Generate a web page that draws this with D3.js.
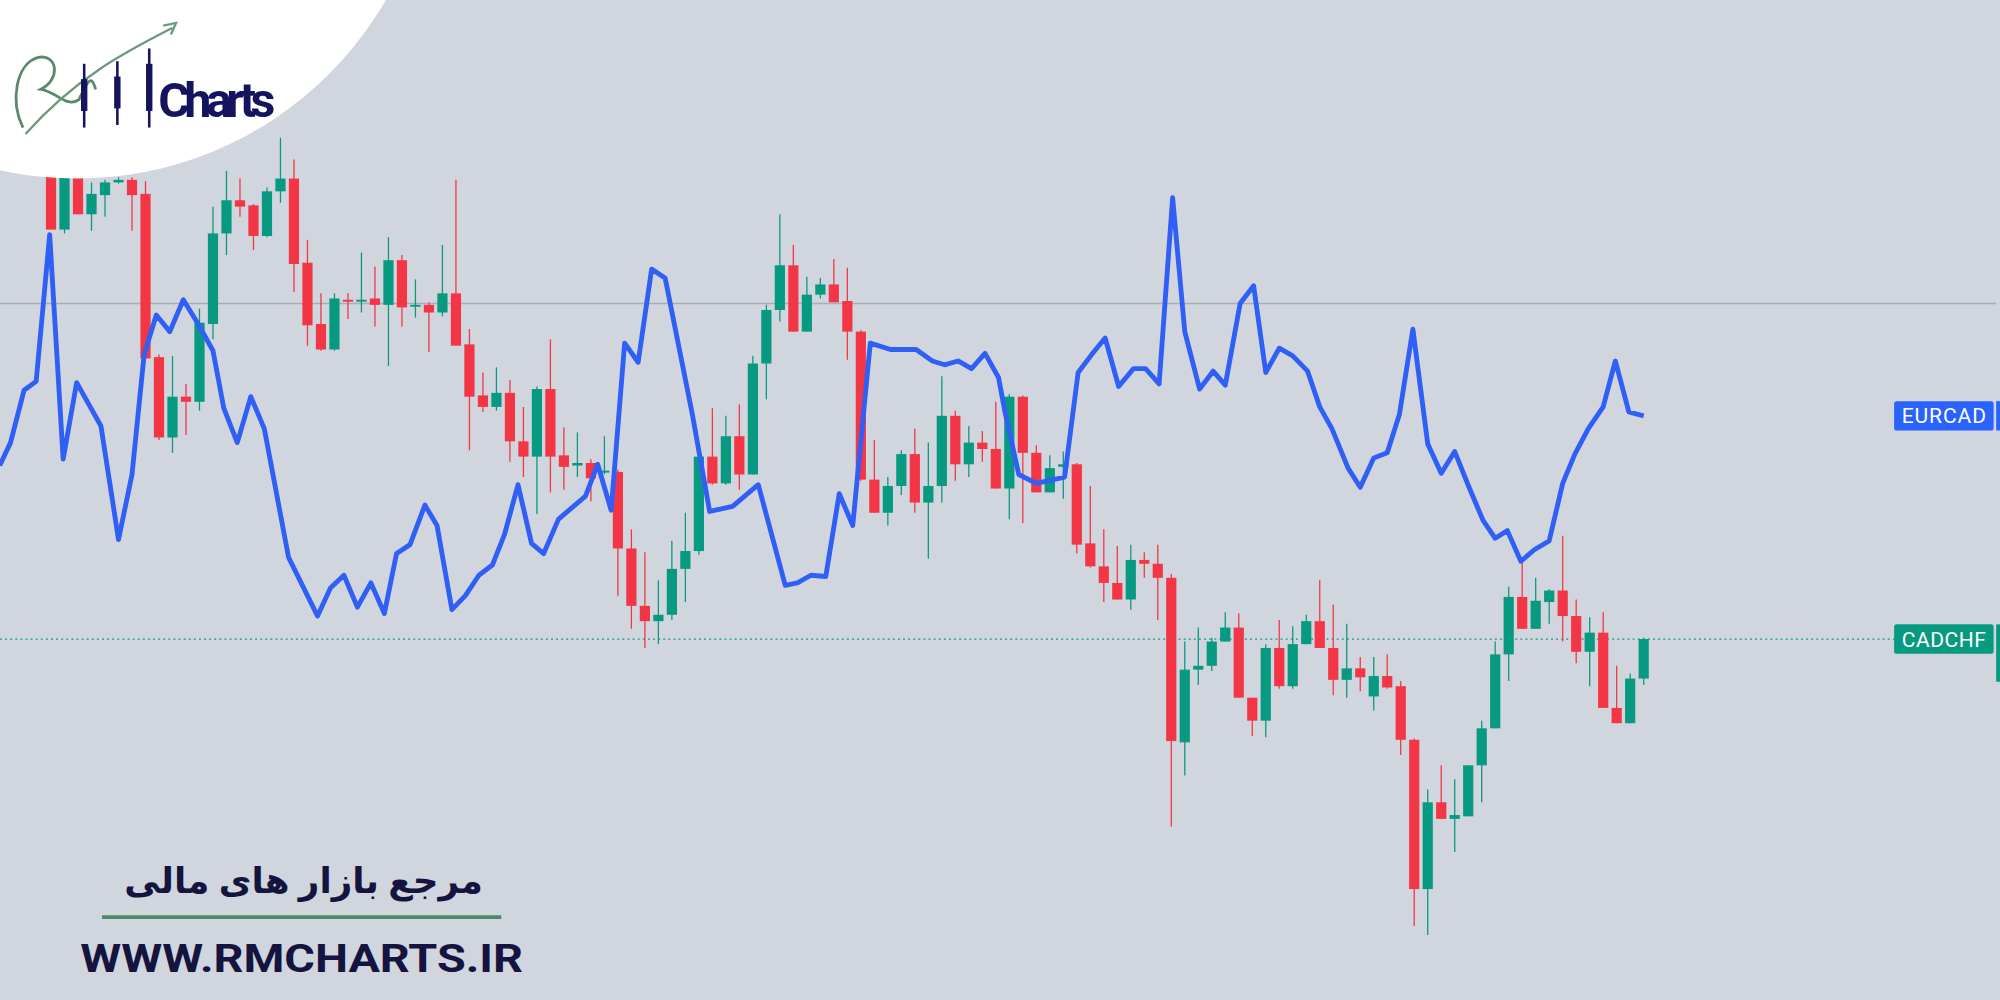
<!DOCTYPE html>
<html><head><meta charset="utf-8">
<script src="https://cdn.jsdelivr.net/npm/d3@7"></script>
<style>html,body{margin:0;padding:0;background:#d1d4dc;overflow:hidden}</style>
</head><body>
<svg id="c" width="2000" height="1000" viewBox="0 0 1568 784"></svg>
<script>
// CADCHF candles (index 0..118)
const cadOpen=[0.6870,0.6820,0.6864,0.6832,0.6847,0.6857,0.6859,0.6848,0.6720,0.6657,0.6689,0.6685,0.6746,0.6817,0.6843,0.6839,0.6815,0.6850,0.6860,0.6794,0.6746,0.6726,0.6765,0.6764,0.6766,0.6761,0.6796,0.6760,0.6761,0.6755,0.6770,0.6730,0.6690,0.6681,0.6692,0.6654,0.6642,0.6695,0.6643,0.6635,0.6637,0.6630,0.6630,0.6570,0.6525,0.6513,0.6518,0.6554,0.6568,0.6642,0.6621,0.6658,0.6628,0.6715,0.6757,0.6792,0.6740,0.6769,0.6777,0.6764,0.6740,0.6624,0.6598,0.6619,0.6644,0.6606,0.6619,0.6674,0.6636,0.6653,0.6648,0.6617,0.6689,0.6645,0.6614,0.6634,0.6636,0.6574,0.6556,0.6543,0.6530,0.6561,0.6558,0.6547,0.6418,0.6475,0.6478,0.6497,0.6508,0.6453,0.6435,0.6492,0.6462,0.6495,0.6513,0.6492,0.6467,0.6476,0.6454,0.6470,0.6462,0.6420,0.6303,0.6371,0.6358,0.6360,0.6400,0.6429,0.6487,0.6532,0.6507,0.6528,0.6537,0.6517,0.6489,0.6504,0.6445,0.6433,0.6468];
const cadClose=[0.6820,0.6865,0.6832,0.6848,0.6857,0.6859,0.6847,0.6719,0.6657,0.6689,0.6685,0.6747,0.6817,0.6843,0.6838,0.6815,0.6850,0.6860,0.6793,0.6745,0.6726,0.6766,0.6764,0.6765,0.6761,0.6796,0.6759,0.6761,0.6755,0.6770,0.6729,0.6689,0.6681,0.6692,0.6654,0.6642,0.6695,0.6642,0.6634,0.6637,0.6625,0.6631,0.6570,0.6525,0.6513,0.6518,0.6554,0.6568,0.6642,0.6621,0.6658,0.6628,0.6715,0.6757,0.6792,0.6740,0.6769,0.6777,0.6763,0.6740,0.6624,0.6598,0.6619,0.6644,0.6606,0.6619,0.6674,0.6636,0.6653,0.6648,0.6617,0.6689,0.6645,0.6614,0.6633,0.6636,0.6573,0.6556,0.6543,0.6530,0.6561,0.6558,0.6547,0.6419,0.6475,0.6478,0.6497,0.6508,0.6453,0.6435,0.6492,0.6462,0.6495,0.6513,0.6492,0.6467,0.6476,0.6469,0.6470,0.6461,0.6420,0.6303,0.6371,0.6358,0.6361,0.6400,0.6429,0.6487,0.6532,0.6507,0.6529,0.6537,0.6517,0.6489,0.6504,0.6445,0.6433,0.6468,0.6499];
const cadHigh=[0.6875,0.6867,0.6866,0.6857,0.6859,0.6861,0.6861,0.6858,0.6722,0.6721,0.6699,0.6758,0.6838,0.6866,0.6860,0.6840,0.6853,0.6892,0.6875,0.6812,0.6770,0.6770,0.6770,0.6802,0.6791,0.6814,0.6800,0.6781,0.6763,0.6808,0.6859,0.6742,0.6708,0.6712,0.6702,0.6681,0.6697,0.6734,0.6665,0.6661,0.6640,0.6658,0.6632,0.6585,0.6567,0.6545,0.6576,0.6598,0.6652,0.6680,0.6674,0.6683,0.6721,0.6761,0.6832,0.6808,0.6783,0.6782,0.6797,0.6790,0.6741,0.6655,0.6626,0.6647,0.6664,0.6653,0.6705,0.6678,0.6666,0.6662,0.6685,0.6691,0.6690,0.6651,0.6643,0.6646,0.6637,0.6619,0.6585,0.6572,0.6573,0.6567,0.6573,0.6550,0.6497,0.6508,0.6500,0.6520,0.6519,0.6453,0.6495,0.6514,0.6509,0.6518,0.6545,0.6526,0.6511,0.6485,0.6485,0.6487,0.6466,0.6421,0.6381,0.6400,0.6389,0.6400,0.6435,0.6497,0.6540,0.6563,0.6547,0.6538,0.6580,0.6530,0.6516,0.6520,0.6478,0.6472,0.6500];
const cadLow=[0.6820,0.6817,0.6832,0.6819,0.6830,0.6856,0.6819,0.6719,0.6655,0.6645,0.6659,0.6678,0.6734,0.6800,0.6830,0.6804,0.6814,0.6841,0.6771,0.6729,0.6725,0.6725,0.6750,0.6755,0.6744,0.6713,0.6744,0.6751,0.6724,0.6752,0.6729,0.6647,0.6677,0.6678,0.6638,0.6626,0.6597,0.6614,0.6616,0.6626,0.6607,0.6628,0.6533,0.6507,0.6492,0.6495,0.6514,0.6528,0.6565,0.6620,0.6620,0.6616,0.6628,0.6687,0.6748,0.6740,0.6740,0.6766,0.6763,0.6718,0.6623,0.6598,0.6588,0.6612,0.6598,0.6562,0.6606,0.6623,0.6626,0.6638,0.6617,0.6593,0.6590,0.6614,0.6614,0.6609,0.6566,0.6555,0.6528,0.6530,0.6522,0.6547,0.6514,0.6352,0.6392,0.6463,0.6474,0.6497,0.6453,0.6423,0.6422,0.6460,0.6460,0.6495,0.6492,0.6455,0.6453,0.6458,0.6443,0.6460,0.6408,0.6274,0.6267,0.6358,0.6332,0.6360,0.6371,0.6429,0.6466,0.6507,0.6507,0.6511,0.6497,0.6480,0.6462,0.6445,0.6433,0.6433,0.6463];
// EURCAD line: bar-index position and price
const eurT=[-3.8,-3.0,-2.0,-1.1,-0.1,0.9,1.9,3.7,5.0,6.0,6.9,7.8,8.8,9.8,10.9,12.0,12.8,13.8,14.8,15.8,17.6,19.75,20.7,21.7,22.7,23.7,24.7,25.6,26.6,27.7,28.6,29.7,30.7,31.7,32.7,33.6,34.6,35.6,36.5,37.6,38.6,39.6,40.5,41.5,42.5,43.5,44.5,45.5,47.5,48.8,50.5,52.4,54.4,55.3,56.3,57.4,58.4,59.4,60.7,62.2,64.1,65.3,66.2,67.2,68.2,69.2,70.2,70.7,71.7,73.0,75.1,76.1,77.1,78.1,79.1,80.2,81.1,82.1,83.1,84.0,85.1,86.1,87.0,88.1,89.1,90.0,91.0,92.0,93.1,94.0,94.9,96.1,97.0,98.0,99.0,99.9,100.9,102.0,103.0,104.0,105.1,106.1,107.0,107.9,108.9,109.9,111.0,112.0,112.9,113.9,115.0,115.9,116.9,118.0];
const eurV=[1.4635,1.4653,1.4694,1.4701,1.4816,1.4640,1.4700,1.4666,1.4577,1.4628,1.4722,1.4753,1.4740,1.4765,1.4746,1.4725,1.4680,1.4653,1.4689,1.4664,1.4563,1.4517,1.4539,1.4549,1.4524,1.4543,1.4519,1.4566,1.4573,1.4604,1.4588,1.4522,1.4533,1.4549,1.4557,1.4581,1.4620,1.4574,1.4566,1.4593,1.4602,1.4611,1.4636,1.4600,1.4731,1.4716,1.4789,1.4782,1.4676,1.4599,1.4603,1.4620,1.4541,1.4543,1.4549,1.4548,1.4613,1.4588,1.4731,1.4726,1.4726,1.4717,1.4714,1.4717,1.4711,1.4723,1.4704,1.4676,1.4628,1.4621,1.4626,1.4708,1.4722,1.4735,1.4697,1.4711,1.4711,1.4699,1.4845,1.4740,1.4695,1.4709,1.4698,1.4762,1.4776,1.4708,1.4727,1.4721,1.4709,1.4681,1.4664,1.4633,1.4618,1.4641,1.4645,1.4675,1.4742,1.4652,1.4629,1.4646,1.4617,1.4592,1.4578,1.4584,1.4560,1.4569,1.4576,1.4621,1.4644,1.4664,1.4681,1.4717,1.4677,1.4674];
const cadLast=0.6499, refLevel=0.6762;
const labels=["EURCAD","CADCHF"];

const svg=d3.select("#c");
const W=1568,H=784;
svg.append("rect").attr("width",W).attr("height",H).attr("fill","#d1d5dd");
const x=d3.scaleLinear().domain([-3.78,144.4]).range([0,W]);
const y=d3.scaleLinear().domain([0.7,0.6216]).range([0,H]);
const y2=d3.scaleLinear().domain([1.5,1.4216]).range([0,H]);

svg.append("line").attr("x1",0).attr("x2",1565).attr("y1",y(refLevel)).attr("y2",y(refLevel)).attr("stroke","#a9adb6").attr("stroke-width",1.2);
svg.append("line").attr("x1",0).attr("x2",1485).attr("y1",y(cadLast)).attr("y2",y(cadLast)).attr("stroke","#089981").attr("stroke-width",1).attr("stroke-dasharray","1.5,2.5");

const idx=d3.range(cadOpen.length);
const up="#089981",dn="#f23645";
const g=svg.append("g");
g.selectAll("line.w").data(idx).join("line").attr("x1",i=>x(i)).attr("x2",i=>x(i))
 .attr("y1",i=>y(cadHigh[i])).attr("y2",i=>y(cadLow[i])).attr("stroke",i=>cadClose[i]>=cadOpen[i]?up:dn).attr("stroke-width",1);
g.selectAll("rect.b").data(idx).join("rect").attr("x",i=>x(i)-4).attr("width",8)
 .attr("y",i=>y(Math.max(cadOpen[i],cadClose[i]))).attr("height",i=>Math.max(1.5,Math.abs(y(cadOpen[i])-y(cadClose[i]))))
 .attr("fill",i=>cadClose[i]>=cadOpen[i]?up:dn);

svg.append("path").datum(eurT.map((t,i)=>[t,eurV[i]])).attr("fill","none").attr("stroke","#2f5ff5")
 .attr("stroke-width",3.8).attr("stroke-linejoin","round")
 .attr("d",d3.line().x(d=>x(d[0])).y(d=>y2(d[1])));

// labels
[[labels[0],"#2962ff",y2(eurV[eurV.length-1])],[labels[1],"#089981",y(cadLast)]].forEach(([t,c,yy])=>{
  svg.append("rect").attr("x",1485).attr("y",yy-11.5).attr("width",78).attr("height",23).attr("rx",2).attr("fill",c);
  svg.append("rect").attr("x",1565).attr("y",yy-11.5).attr("width",3).attr("height",t==="CADCHF"?45:23).attr("fill",c);
  svg.append("text").attr("x",1524).attr("y",yy+6).attr("text-anchor","middle").attr("fill","#fff")
   .attr("font-family","Roboto, sans-serif").attr("font-size",16.5).attr("textLength",66).text(t);
});

// logo
svg.append("circle").attr("cx",60).attr("cy",-140).attr("r",280).attr("fill","#fff");
svg.append("path").attr("d","M18,100 C8,80 12,50 30,45 C45,42 48,62 32,70 C45,72 52,85 62,78 C70,60 72,60 75,70")
 .attr("fill","none").attr("stroke","#5a8a6e").attr("stroke-width",2.2);
svg.append("path").attr("d","M20,105 C60,60 100,40 135,22 M128,20 L138,18 L134,27").attr("fill","none").attr("stroke","#6a9a7e").attr("stroke-width",1.8);
[[66,50,100],[92,48,98],[117,38,100]].forEach(([cx,a,b])=>{
  svg.append("line").attr("x1",cx).attr("x2",cx).attr("y1",a).attr("y2",b).attr("stroke","#13135e").attr("stroke-width",2);
  svg.append("rect").attr("x",cx-2.5).attr("y",a+12).attr("width",5).attr("height",(b-a)-25).attr("fill","#13135e");
});
svg.append("text").attr("x",124).attr("y",92).attr("font-family","'Liberation Sans Narrow', 'Roboto', sans-serif").attr("font-weight","bold")
 .attr("font-size",38).attr("fill","#13135e").attr("textLength",92).text("Charts");

// footer
svg.append("text").attr("x",238).attr("y",700).attr("text-anchor","middle").attr("direction","rtl")
 .attr("font-family","'Noto Sans','DejaVu Sans',sans-serif").attr("font-weight","bold").attr("font-size",28).attr("fill","#14143f").text("مرجع بازار های مالی");
svg.append("line").attr("x1",80).attr("x2",393).attr("y1",719).attr("y2",719).attr("stroke","#4b8a6a").attr("stroke-width",3);
svg.append("text").attr("x",63).attr("y",762).attr("font-family","Roboto, sans-serif").attr("font-weight","bold")
 .attr("font-size",30).attr("fill","#14143f").attr("textLength",347).attr("lengthAdjust","spacingAndGlyphs").text("WWW.RMCHARTS.IR");
</script>
</body></html>
